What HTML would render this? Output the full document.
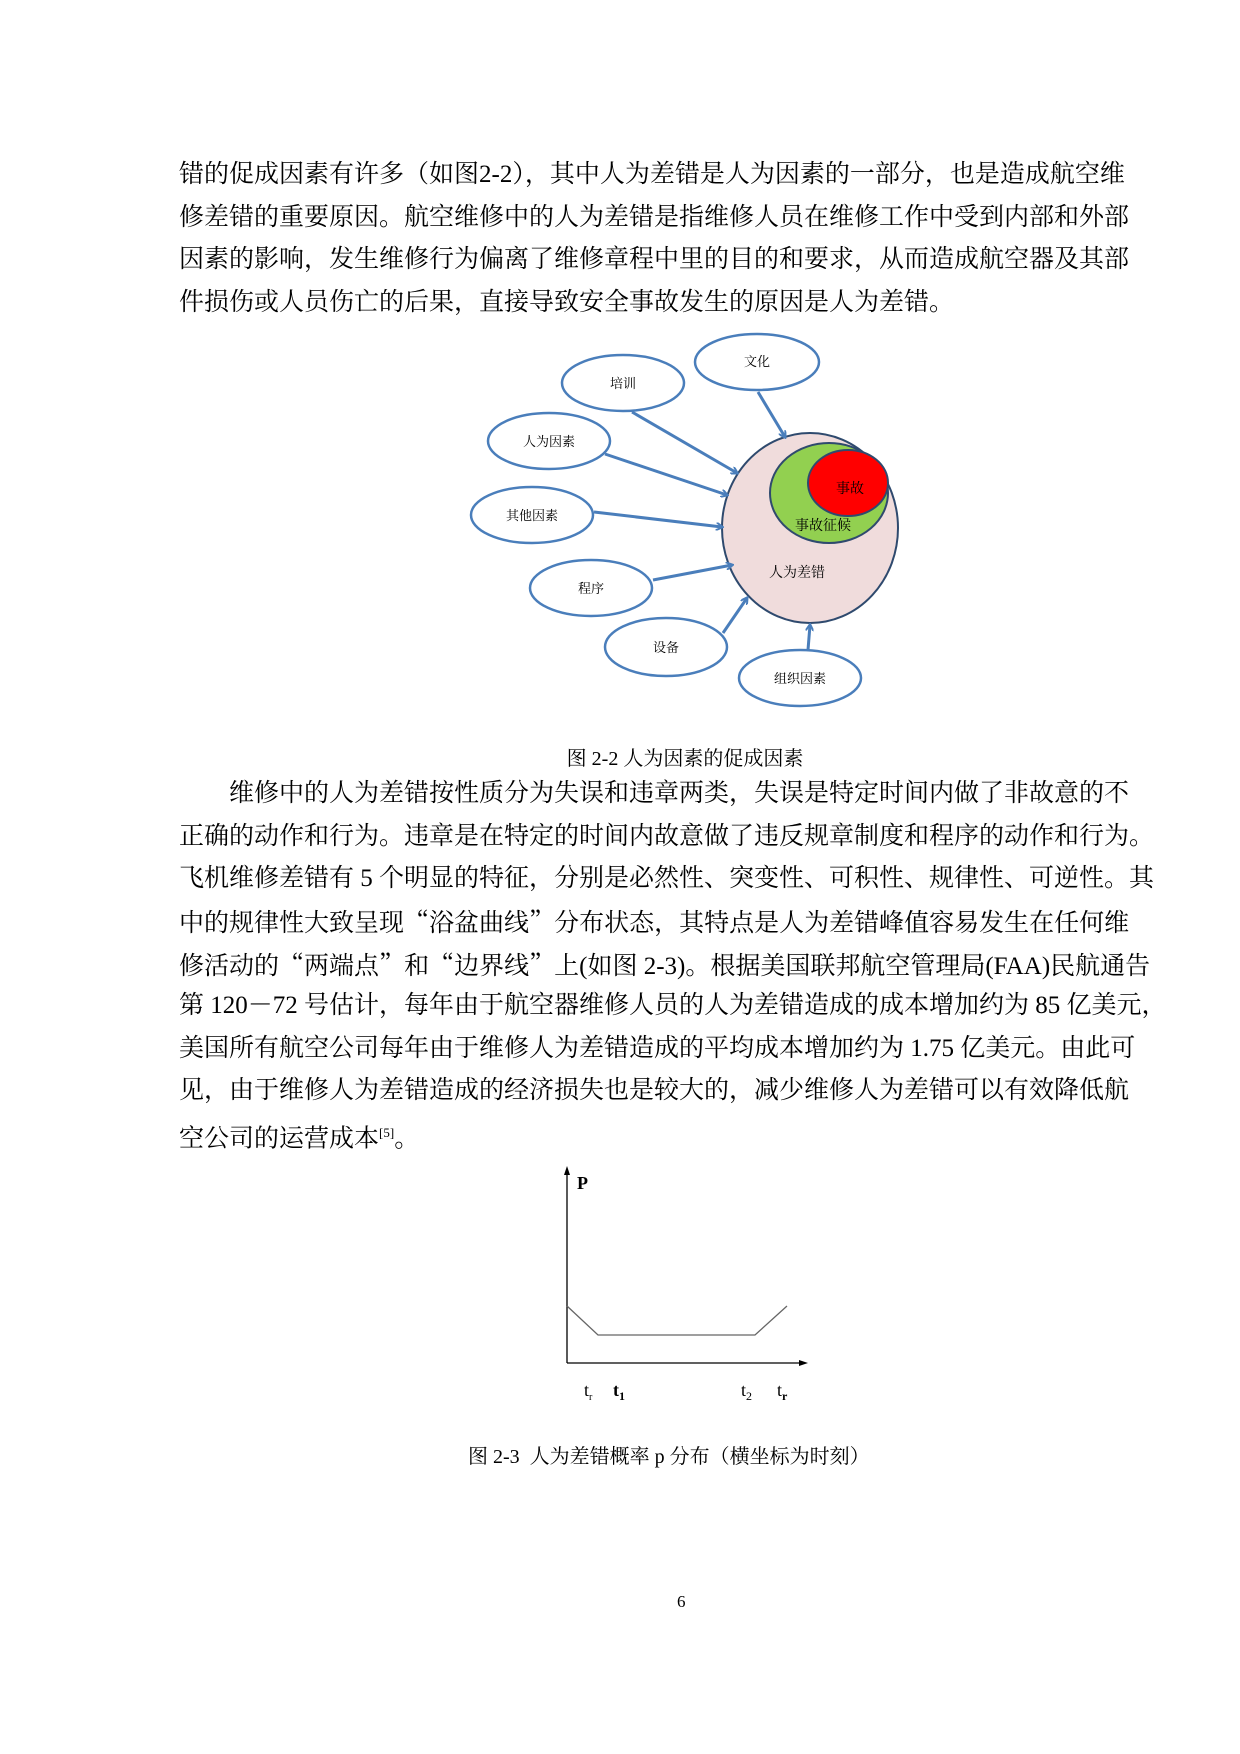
<!DOCTYPE html>
<html><head><meta charset="utf-8">
<style>
html,body{margin:0;padding:0;background:#fff;}
body{width:1240px;height:1754px;position:relative;overflow:hidden;font-family:"Liberation Serif","Noto Serif CJK SC",serif;color:#000;}
.l{position:absolute;left:179px;font-size:25px;line-height:30px;white-space:nowrap;}
.c{position:absolute;font-size:20px;white-space:nowrap;}
.q{font-family:"Noto Serif CJK SC",serif;}
</style></head><body>
<div class="l" style="top:160px">错的促成因素有许多（如图2-2），其中人为差错是人为因素的一部分，也是造成航空维</div>
<div class="l" style="top:203px">修差错的重要原因。航空维修中的人为差错是指维修人员在维修工作中受到内部和外部</div>
<div class="l" style="top:245px">因素的影响，发生维修行为偏离了维修章程中里的目的和要求，从而造成航空器及其部</div>
<div class="l" style="top:288px">件损伤或人员伤亡的后果，直接导致安全事故发生的原因是人为差错。</div>

<svg style="position:absolute;left:0;top:0" width="1240" height="760">
<defs><marker id="a" markerWidth="8" markerHeight="8" refX="6" refY="4" orient="auto" markerUnits="userSpaceOnUse" viewBox="0 0 8 8"><path d="M0,0 L7,4 L0,8" fill="none" stroke="#4a7ebb" stroke-width="2"/></marker></defs>
<g fill="#fff" stroke="#4a7ebb" stroke-width="2.5">
<ellipse cx="623" cy="383" rx="61" ry="28"/>
<ellipse cx="757" cy="362" rx="62" ry="28"/>
<ellipse cx="549" cy="441" rx="61" ry="28"/>
<ellipse cx="532" cy="515" rx="61" ry="28"/>
<ellipse cx="591" cy="588" rx="61" ry="28"/>
<ellipse cx="666" cy="647" rx="61" ry="29"/>
<ellipse cx="800" cy="678" rx="61" ry="28"/>
</g>
<ellipse cx="810" cy="528" rx="88" ry="95" fill="#f0dcdc" stroke="#2f4a6e" stroke-width="2"/>
<ellipse cx="829" cy="493" rx="59" ry="50" fill="#92d050" stroke="#2f4a6e" stroke-width="2"/>
<ellipse cx="848" cy="483" rx="40" ry="33" fill="#ff0000" stroke="#2f4a6e" stroke-width="2"/>
<g stroke="#4a7ebb" stroke-width="3" marker-end="url(#a)">
<line x1="632" y1="412" x2="737" y2="473"/>
<line x1="758" y1="392" x2="785" y2="437"/>
<line x1="605" y1="454" x2="727" y2="495"/>
<line x1="594" y1="512" x2="722" y2="527"/>
<line x1="653" y1="580" x2="732" y2="565"/>
<line x1="723" y1="633" x2="747" y2="598"/>
<line x1="808" y1="650" x2="810" y2="625"/>
</g>
<g font-family="Liberation Serif,Noto Serif CJK SC,serif" font-size="13" text-anchor="middle" fill="#000">
<text x="623" y="388">培训</text>
<text x="757" y="366">文化</text>
<text x="549" y="446">人为因素</text>
<text x="532" y="520">其他因素</text>
<text x="591" y="593">程序</text>
<text x="666" y="652">设备</text>
<text x="800" y="683">组织因素</text>
<text x="850" y="493" font-size="14">事故</text>
<text x="823" y="530" font-size="14">事故征候</text>
<text x="797" y="577" font-size="14">人为差错</text>
</g>
</svg>

<div class="c" style="left:0;width:1370px;text-align:center;top:742px">图 2-2 人为因素的促成因素</div>

<div class="l" style="top:779px;left:229px">维修中的人为差错按性质分为失误和违章两类，失误是特定时间内做了非故意的不</div>
<div class="l" style="top:822px">正确的动作和行为。违章是在特定的时间内故意做了违反规章制度和程序的动作和行为。</div>
<div class="l" style="top:864px">飞机维修差错有 5 个明显的特征，分别是必然性、突变性、可积性、规律性、可逆性。其</div>
<div class="l" style="top:906px">中的规律性大致呈现<span class="q">“</span>浴盆曲线<span class="q">”</span>分布状态，其特点是人为差错峰值容易发生在任何维</div>
<div class="l" style="top:949px">修活动的<span class="q">“</span>两端点<span class="q">”</span>和<span class="q">“</span>边界线<span class="q">”</span>上(如图 2-3)。根据美国联邦航空管理局(FAA)民航通告</div>
<div class="l" style="top:991px">第 120－72 号估计，每年由于航空器维修人员的人为差错造成的成本增加约为 85 亿美元，</div>
<div class="l" style="top:1034px">美国所有航空公司每年由于维修人为差错造成的平均成本增加约为 1.75 亿美元。由此可</div>
<div class="l" style="top:1076px">见，由于维修人为差错造成的经济损失也是较大的，减少维修人为差错可以有效降低航</div>
<div class="l" style="top:1118px">空公司的运营成本<sup style="font-size:13px">[5]</sup>。</div>

<svg style="position:absolute;left:0;top:0" width="1240" height="1420">
<g stroke="#000" stroke-width="1.3" fill="none">
<line x1="567" y1="1173" x2="567" y2="1363"/>
<line x1="567" y1="1363" x2="802" y2="1363"/>
</g>
<path d="M567,1166 L564,1175 L570,1175Z" fill="#000"/>
<path d="M808,1363 L799,1360 L799,1366Z" fill="#000"/>
<polyline points="567,1306 598,1335 755,1335 787,1306" fill="none" stroke="#666" stroke-width="1.3"/>
<g font-family="Liberation Serif,serif" font-size="18" fill="#000">
<text x="577" y="1189" font-weight="bold">P</text>
<text x="584" y="1396">t<tspan font-size="10" dy="4">r</tspan></text>
<text x="613" y="1396" font-weight="bold">t<tspan font-size="12" dy="4">1</tspan></text>
<text x="741" y="1396">t<tspan font-size="12" dy="4">2</tspan></text>
<text x="777" y="1396">t<tspan font-size="12" dy="4" font-weight="bold">r</tspan></text>
</g>
</svg>

<div class="c" style="left:468px;top:1440px">图 2-3&nbsp; 人为差错概率 p 分布（横坐标为时刻）</div>
<div class="c" style="left:677px;top:1592px;font-size:17px">6</div>
</body></html>
